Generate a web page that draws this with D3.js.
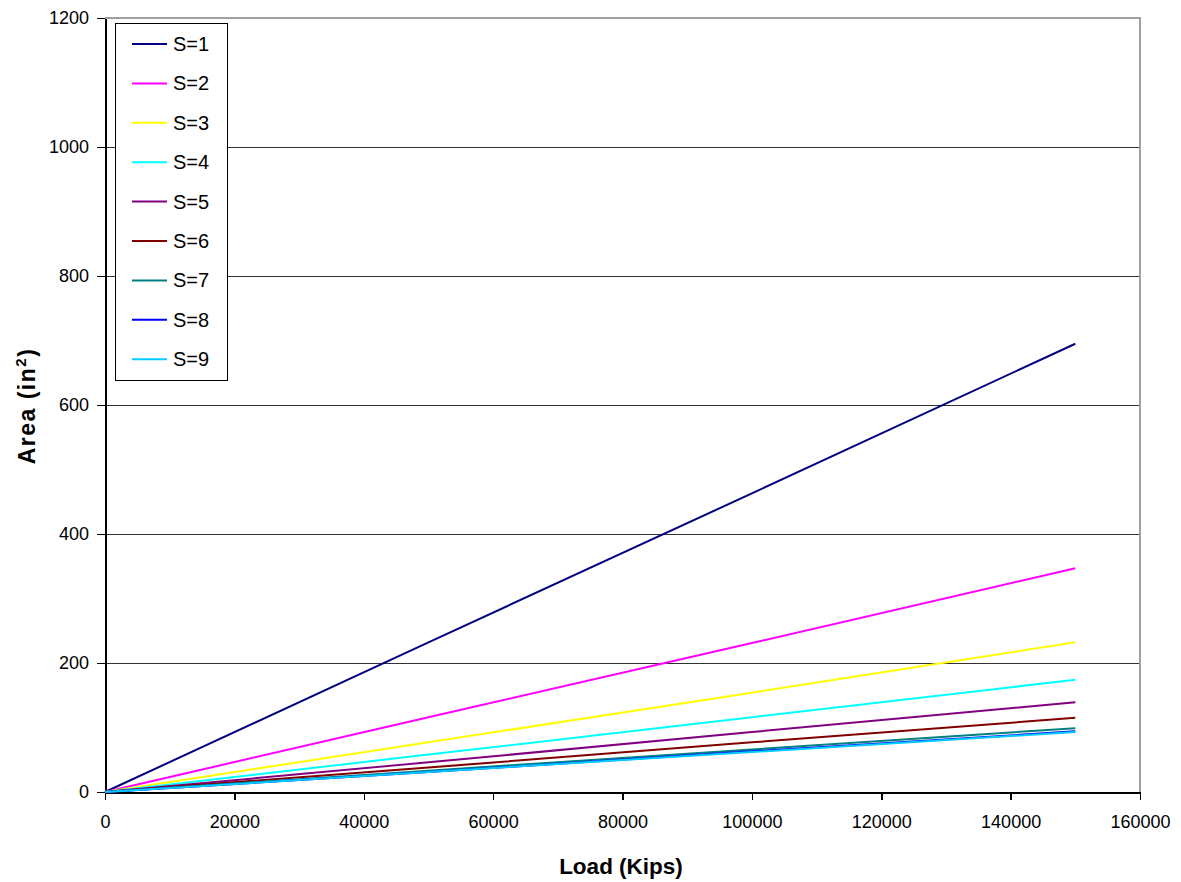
<!DOCTYPE html>
<html>
<head>
<meta charset="utf-8">
<script src="https://cdn.jsdelivr.net/npm/d3@7"></script>
<style>
  html, body { margin: 0; padding: 0; background: #fff; }
  svg { display: block; font-family: "Liberation Sans", Arial, sans-serif; }
</style>
</head>
<body>
<svg id="chart" width="1181" height="882"></svg>
<script>
// Load points (kips) shared by every series
const loads = [0, 50000, 100000, 150000];

// Required area (in²) for each spacing S
const areaS1 = [0, 232, 463, 695];
const areaS2 = [0, 116, 231, 347];
const areaS3 = [0, 77, 154, 232];
const areaS4 = [0, 58, 116, 174];
const areaS5 = [0, 46, 93, 139];
const areaS6 = [0, 38, 77, 115];
const areaS7 = [0, 33, 66, 99];
const areaS8 = [0, 31, 63, 94];
const areaS9 = [0, 31, 62, 93];

const seriesNames = ["S=1", "S=2", "S=3", "S=4", "S=5", "S=6", "S=7", "S=8", "S=9"];
const seriesColors = ["#000080", "#FF00FF", "#FFFF00", "#00FFFF", "#800080", "#800000", "#008080", "#0000FF", "#00CCFF"];
const seriesValues = [areaS1, areaS2, areaS3, areaS4, areaS5, areaS6, areaS7, areaS8, areaS9];

const xTicks = [0, 20000, 40000, 60000, 80000, 100000, 120000, 140000, 160000];
const yTicks = [0, 200, 400, 600, 800, 1000, 1200];

const svg = d3.select("#chart");
const plot = { left: 105, right: 1140, top: 18, bottom: 792 };

const x = d3.scaleLinear().domain([0, 160000]).range([plot.left, plot.right]);
const y = d3.scaleLinear().domain([0, 1200]).range([plot.bottom, plot.top]);

// Horizontal gridlines
svg.append("g")
  .selectAll("line")
  .data(yTicks.filter(t => t > 0 && t < 1200))
  .join("line")
  .attr("x1", plot.left).attr("x2", plot.right)
  .attr("y1", d => y(d)).attr("y2", d => y(d))
  .attr("stroke", "#333").attr("stroke-width", 1)
  .attr("shape-rendering", "crispEdges");

// Plot-area frame (top and right edges)
svg.append("path")
  .attr("d", `M${plot.left},${plot.top}H${plot.right}V${plot.bottom}`)
  .attr("fill", "none").attr("stroke", "#a0a0a0").attr("stroke-width", 2)
  .attr("shape-rendering", "crispEdges");

// Axes
const xAxis = d3.axisBottom(x).tickValues(xTicks).tickFormat(d3.format("d"))
  .tickSizeInner(8).tickSizeOuter(0).tickPadding(15);
const yAxis = d3.axisLeft(y).tickValues(yTicks).tickFormat(d3.format("d"))
  .tickSizeInner(8).tickSizeOuter(0).tickPadding(8);

const gx = svg.append("g").attr("transform", `translate(0,${plot.bottom})`).call(xAxis);
const gy = svg.append("g").attr("transform", `translate(${plot.left},0)`).call(yAxis);

[gx, gy].forEach(g => {
  g.selectAll("path.domain").attr("stroke", "#000").attr("stroke-width", 2).attr("shape-rendering", "crispEdges");
  g.selectAll(".tick line").attr("stroke", "#000").attr("stroke-width", 1.5).attr("shape-rendering", "crispEdges");
  g.selectAll(".tick text").attr("fill", "#000").style("font-size", "18px")
    .style("font-family", "'Liberation Sans', Arial, sans-serif");
});

// Series lines
const line = d3.line().x((d, i) => x(loads[i])).y(d => y(d));
svg.append("g")
  .selectAll("path")
  .data(seriesValues)
  .join("path")
  .attr("d", d => line(d))
  .attr("fill", "none")
  .attr("stroke", (d, i) => seriesColors[i])
  .attr("stroke-width", 2);

// Axis titles
svg.append("text")
  .attr("x", 621).attr("y", 874)
  .attr("text-anchor", "middle")
  .style("font-size", "22.5px").style("font-weight", "bold")
  .text("Load (Kips)");

const yTitle = svg.append("text")
  .attr("transform", `translate(35,406) rotate(-90)`)
  .attr("text-anchor", "middle")
  .style("font-size", "23px").style("font-weight", "bold")
  .style("letter-spacing", "1.5px");
yTitle.append("tspan").text("Area (in");
yTitle.append("tspan").attr("dy", -9).style("font-size", "15px").text("2");
yTitle.append("tspan").attr("dy", 9).text(")");

// Legend
const legend = svg.append("g");
legend.append("rect")
  .attr("x", 115.5).attr("y", 23.5).attr("width", 112).attr("height", 357)
  .attr("fill", "#fff").attr("stroke", "#000").attr("stroke-width", 1);

const entries = legend.selectAll("g.entry")
  .data(seriesNames)
  .join("g")
  .attr("class", "entry")
  .attr("transform", (d, i) => `translate(0,${44 + i * 39.4})`);
entries.append("line")
  .attr("x1", 132).attr("x2", 167).attr("y1", 0).attr("y2", 0)
  .attr("stroke", (d, i) => seriesColors[i]).attr("stroke-width", 2);
entries.append("text")
  .attr("x", 173).attr("y", 0).attr("dy", "0.35em")
  .style("font-size", "20px")
  .text(d => d);
</script>
</body>
</html>
